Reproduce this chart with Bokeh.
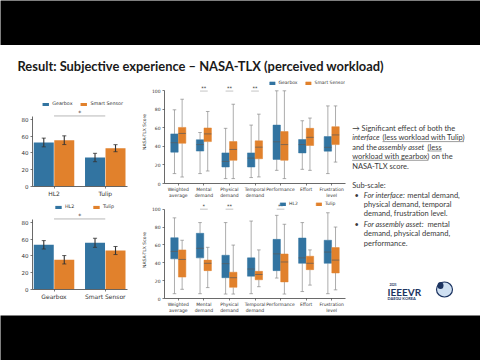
import math
from bokeh.plotting import figure
from bokeh.layouts import column, row
from bokeh.models import Range1d, FixedTicker, Label, ColumnDataSource
from bokeh.embed import file_html
from bokeh.resources import INLINE
from bokeh.core.properties import value

# ---------------- data ----------------
interfaces = ["HL2", "Tulip"]
assets = ["Gearbox", "Smart Sensor"]

# top-left bar chart: x = interface, hue = assembly asset
bar_top_gearbox = [52.4, 34.5]
bar_top_gearbox_ci = [5.2, 5.0]
bar_top_smart = [55.1, 45.6]
bar_top_smart_ci = [5.2, 4.2]

# bottom-left bar chart: x = assembly asset, hue = interface
bar_bot_hl2 = [53.2, 55.6]
bar_bot_hl2_ci = [5.0, 5.4]
bar_bot_tulip = [35.4, 46.4]
bar_bot_tulip_ci = [5.0, 4.8]

bar_ticks = [0, 20, 40, 60, 80]
box_ticks = [0, 20, 40, 60, 80, 100]

subscales = ["Weighted\naverage", "Mental\ndemand", "Physical\ndemand", "Temporal\ndemand",
             "Performance", "Effort", "Frustration\nlevel"]

# box stats (whisker low, q1, median, q3, whisker high) -- top: Gearbox vs Smart Sensor
top_gear_lo = [10.7, 10.7, 5.3, 6.4, 14.2, 15.3, 10.7]
top_gear_q1 = [33.8, 35.0, 17.8, 17.8, 26.0, 33.0, 34.9]
top_gear_med = [44.0, 42.0, 23.8, 27.4, 45.0, 42.0, 39.0]
top_gear_q3 = [53.5, 47.2, 33.0, 33.0, 63.0, 47.4, 50.6]
top_gear_hi = [79.5, 55.0, 59.5, 63.0, 100.0, 67.7, 83.7]

top_smart_lo = [7.0, 13.5, 5.3, 7.1, 5.3, 14.2, 23.1]
top_smart_q1 = [43.4, 45.2, 25.0, 26.7, 25.0, 41.0, 42.0]
top_smart_med = [54.0, 53.5, 36.7, 39.2, 42.0, 49.8, 52.4]
top_smart_q3 = [60.5, 59.9, 45.2, 46.0, 56.0, 59.5, 61.3]
top_smart_hi = [90.9, 77.7, 85.5, 74.8, 100.0, 70.6, 83.7]

# bottom: HL2 vs Tulip
bot_hl2_lo = [5.4, 5.4, 5.0, 5.4, 22.9, 7.8, 5.4]
bot_hl2_q1 = [44.4, 45.5, 23.3, 25.0, 31.2, 39.4, 39.4]
bot_hl2_med = [52.7, 56.2, 39.0, 33.0, 50.0, 45.5, 52.0]
bot_hl2_q3 = [68.0, 73.0, 48.4, 45.5, 66.2, 67.7, 65.2]
bot_hl2_hi = [90.3, 85.0, 85.0, 86.7, 93.1, 85.0, 96.0]

bot_tulip_lo = [10.3, 12.2, 5.0, 13.2, 5.0, 15.0, 9.7]
bot_tulip_q1 = [24.0, 31.2, 12.5, 21.0, 18.6, 32.3, 28.6]
bot_tulip_med = [43.7, 39.4, 23.3, 26.9, 40.9, 39.4, 43.0]
bot_tulip_q3 = [54.4, 43.0, 29.4, 30.4, 49.8, 47.3, 57.0]
bot_tulip_hi = [65.2, 57.3, 59.8, 54.4, 83.1, 54.4, 80.0]

top_sig_idx = [1, 2, 3]
top_sig_txt = ["**", "**", "**"]
bot_sig_idx = [1, 2, 4]
bot_sig_txt = ["*", "**", "**"]
bar_sig_txt = "*"

title_text = "Result: Subjective experience \u2013 NASA-TLX (perceived workload)"

# ---------------- style ----------------
BLUE = "#3274a1"
ORANGE = "#e1812c"
AX = "#444444"
CF = "DejaVu Sans"


def base_fig(w, h, xr, yr, **kw):
    p = figure(width=w, height=h, x_range=xr, y_range=yr, output_backend="svg",
               toolbar_location=None, **kw)
    p.outline_line_color = None
    p.grid.visible = False
    p.background_fill_color = "white"
    p.border_fill_color = "white"
    return p


def style_axes(p, fs):
    for ax in p.axis:
        ax.axis_line_color = AX
        ax.axis_line_width = 0.8
        ax.major_tick_line_color = AX
        ax.major_tick_line_width = 0.7
        ax.major_tick_out = 2
        ax.major_tick_in = 0
        ax.minor_tick_line_color = None
        ax.major_label_text_font = CF
        ax.major_label_text_font_size = fs
        ax.major_label_text_color = "#333333"
        ax.major_label_standoff = 2


def style_legend(p, fs, gw, gh, spacing, loc, padding):
    lg = p.legend[0]
    lg.orientation = "horizontal"
    lg.location = loc
    lg.margin = 0
    lg.padding = padding
    lg.spacing = spacing
    lg.glyph_width = gw
    lg.glyph_height = gh
    lg.label_height = gh
    lg.label_standoff = 3
    lg.label_text_font = CF
    lg.label_text_font_size = fs
    lg.label_text_color = "#333333"
    lg.background_fill_alpha = 0
    lg.border_line_color = None


BAR_PX = 0.84   # pixels per score unit in the bar charts


def bar_chart(groups, hue, m1, e1, m2, e2, height, b_top, b_bot):
    frame_h = height - b_top - b_bot
    p = base_fig(138, height, Range1d(-0.42, 1.434), Range1d(0, frame_h / BAR_PX),
                 min_border_left=32, min_border_right=11, min_border_top=b_top,
                 min_border_bottom=b_bot)
    idx = list(range(len(groups)))
    for means, errs, off, col, lab in ((m1, e1, -0.2, BLUE, hue[0]), (m2, e2, 0.2, ORANGE, hue[1])):
        xs = [i + off for i in idx]
        p.vbar(x=xs, top=means, bottom=0, width=0.39, fill_color=col, line_color=None,
               legend_label=lab)
        lo = [m - e for m, e in zip(means, errs)]
        hi = [m + e for m, e in zip(means, errs)]
        p.segment(x0=xs, y0=lo, x1=xs, y1=hi, line_color="#333333", line_width=1.1)
        p.segment(x0=[x - 0.04 for x in xs], y0=lo, x1=[x + 0.04 for x in xs], y1=lo,
                  line_color="#333333", line_width=0.8)
        p.segment(x0=[x - 0.04 for x in xs], y0=hi, x1=[x + 0.04 for x in xs], y1=hi,
                  line_color="#333333", line_width=0.8)
    # significance bracket between the two groups
    p.segment(x0=[idx[0]], y0=[84], x1=[idx[-1]], y1=[84], line_color="#888888", line_width=0.6)
    p.text(x=[(idx[0] + idx[-1]) / 2], y=[84.5], text=[bar_sig_txt], text_align="center",
           text_baseline="bottom", text_font=value(CF), text_font_size="6px", text_color="#333333")
    p.xaxis.ticker = FixedTicker(ticks=idx)
    p.xaxis.major_label_overrides = {i: g for i, g in enumerate(groups)}
    p.yaxis.ticker = FixedTicker(ticks=bar_ticks)
    p.yaxis.bounds = (0, 83)
    style_axes(p, "5.5px")
    p.xaxis.major_label_text_font_size = "6px"
    p.xaxis.major_label_standoff = 1
    p.add_layout(Label(x=-17, x_units="screen", y=41.5, y_units="data",
                       text="Mean NASA-TLX score", angle=math.pi / 2, text_align="center",
                       text_baseline="middle", text_font=CF, text_font_size="6px",
                       text_color="#333333"))
    style_legend(p, "4.8px", 8, 4, 7, "top_right", 1)
    p.legend[0].margin = 4
    return p


def box_chart(cats, s1, s2, hue, height, b_top, b_bot, px, sig_idx, sig_txt, sig_y):
    frame_h = height - b_top - b_bot
    p = base_fig(210, height, Range1d(-0.54, 6.54), Range1d(0, frame_h / px),
                 min_border_left=20, min_border_right=3, min_border_top=b_top,
                 min_border_bottom=b_bot)
    idx = list(range(len(cats)))
    for stats, off, col, lab in ((s1, -0.15, BLUE, hue[0]), (s2, 0.15, ORANGE, hue[1])):
        lo, q1, med, q3, hi = stats
        xs = [i + off for i in idx]
        p.segment(x0=xs, y0=lo, x1=xs, y1=q1, line_color="#8a8a8a", line_width=0.7)
        p.segment(x0=xs, y0=q3, x1=xs, y1=hi, line_color="#8a8a8a", line_width=0.7)
        p.segment(x0=[x - 0.07 for x in xs], y0=lo, x1=[x + 0.07 for x in xs], y1=lo,
                  line_color="#8a8a8a", line_width=0.7)
        p.segment(x0=[x - 0.07 for x in xs], y0=hi, x1=[x + 0.07 for x in xs], y1=hi,
                  line_color="#8a8a8a", line_width=0.7)
        p.vbar(x=xs, bottom=q1, top=q3, width=0.29, fill_color=col, line_color=col,
               line_width=0.5, legend_label=lab)
        p.segment(x0=[x - 0.145 for x in xs], y0=med, x1=[x + 0.145 for x in xs], y1=med,
                  line_color="#5a5a5a", line_width=0.7)
    p.segment(x0=[i - 0.15 for i in sig_idx], y0=[sig_y] * len(sig_idx),
              x1=[i + 0.15 for i in sig_idx], y1=[sig_y] * len(sig_idx),
              line_color="#888888", line_width=0.5)
    p.text(x=sig_idx, y=[sig_y + 0.4] * len(sig_idx), text=sig_txt, text_align="center",
           text_baseline="bottom", text_font=value(CF), text_font_size="5px", text_color="#333333")
    p.xaxis.ticker = FixedTicker(ticks=idx)
    p.xaxis.major_label_overrides = {i: c for i, c in enumerate(cats)}
    p.yaxis.ticker = FixedTicker(ticks=box_ticks)
    p.yaxis.bounds = (0, 100)
    style_axes(p, "4.5px")
    p.xaxis.major_label_standoff = 1
    p.yaxis.axis_label = "NASA-TLX Score"
    p.yaxis.axis_label_text_font = CF
    p.yaxis.axis_label_text_font_size = "4.5px"
    p.yaxis.axis_label_text_font_style = "normal"
    p.yaxis.axis_label_text_color = "#333333"
    p.yaxis.axis_label_standoff = 2
    style_legend(p, "4.5px", 7, 4, 6, "top_right", 1)
    return p


# ---------------- panels ----------------
W = 480

top_black = base_fig(W, 45, Range1d(0, 1), Range1d(0, 1), x_axis_location=None,
                     y_axis_location=None, min_border=0)
top_black.background_fill_color = "black"
top_black.border_fill_color = "black"

title_fig = base_fig(W, 33, Range1d(0, W), Range1d(33, 0), x_axis_location=None,
                     y_axis_location=None, min_border=0)
title_fig.text(x=[17], y=[20], text=[title_text], text_font=value("Lato"),
               text_font_style="bold", text_font_size="12.9px", text_color="#1a1a1a",
               text_baseline="middle", text_align="left")

bar_top = bar_chart(interfaces, assets, bar_top_gearbox, bar_top_gearbox_ci,
                    bar_top_smart, bar_top_smart_ci, 122, 19, 14)
bar_bot = bar_chart(assets, interfaces, bar_bot_hl2, bar_bot_hl2_ci,
                    bar_bot_tulip, bar_bot_tulip_ci, 115, 0, 26)

box_top = box_chart(subscales,
                    (top_gear_lo, top_gear_q1, top_gear_med, top_gear_q3, top_gear_hi),
                    (top_smart_lo, top_smart_q1, top_smart_med, top_smart_q3, top_smart_hi),
                    assets, 122, 2, 16, 0.936, top_sig_idx, top_sig_txt, 99.7)
box_bot = box_chart(subscales,
                    (bot_hl2_lo, bot_hl2_q1, bot_hl2_med, bot_hl2_q3, bot_hl2_hi),
                    (bot_tulip_lo, bot_tulip_q1, bot_tulip_med, bot_tulip_q3, bot_tulip_hi),
                    interfaces, 115, 1, 13, 0.93, bot_sig_idx, bot_sig_txt, 100.0)

# right-hand text panel
text_fig = base_fig(132, 237, Range1d(0, 132), Range1d(237, 0), x_axis_location=None,
                    y_axis_location=None, min_border=0)
spans_x = [3.7, 3.7, 34.0, 3.7, 29.5, 78.9, 3.7, 83.0, 3.7, 3.7, 6.0, 15.3, 58.8, 15.3, 15.3,
           6.0, 15.3, 78.9, 15.3, 15.3]
spans_y = [49.7, 59.3, 59.3, 68.7, 68.7, 68.7, 78.0, 78.0, 87.7, 107.3, 117.0, 117.0, 117.0,
           126.0, 135.3, 146.0, 146.0, 146.0, 155.3, 164.7]
spans_t = ["\u2192 Significant effect of both the", "interface", "(less workload with Tulip)",
           "and the", "assembly asset", "(less", "workload with gearbox)", "on the",
           "NASA-TLX score.", "Sub-scale:", "\u2022", "For interface:", "mental demand,",
           "physical demand, temporal", "demand, frustration level.", "\u2022",
           "For assembly asset:", "mental", "demand, physical demand,", "performance."]
spans_s = ["normal", "italic", "normal", "normal", "italic", "normal", "normal", "normal",
           "normal", "normal", "normal", "italic", "normal", "normal", "normal", "normal",
           "italic", "normal", "normal", "normal"]
src = ColumnDataSource(dict(x=spans_x, y=spans_y, t=spans_t, s=spans_s))
text_fig.text(x="x", y="y", text="t", text_font_style="s", source=src, text_font=value("Lato"),
              text_font_size="7.5px", text_color="#3a3a3a", text_baseline="middle",
              text_align="left")
text_fig.segment(x0=[34.0, 78.9, 3.7], y0=[63.1, 72.5, 81.8], x1=[115.5, 93.2, 79.9],
                 y1=[63.1, 72.5, 81.8], line_color="#3a3a3a", line_width=0.5)
# conference logo
text_fig.text(x=[39], y=[213], text=["IEEEVR"], text_font=value("Lato"), text_font_style="bold",
              text_font_size="10px", text_color="#1d3461", text_baseline="middle")
text_fig.text(x=[39], y=[219.5], text=["DAEGU KOREA"], text_font=value("Lato"),
              text_font_style="bold", text_font_size="4px", text_color="#1d3461",
              text_baseline="middle")
text_fig.text(x=[41], y=[206], text=["2025"], text_font=value("Lato"), text_font_style="bold",
              text_font_size="3px", text_color="#1d3461", text_baseline="middle")
text_fig.ellipse(x=[96], y=[211], width=[16], height=[15], fill_color="#cfe0f2",
                 line_color="#1d3461", line_width=1.2)
text_fig.ellipse(x=[92], y=[207], width=[6], height=[7], fill_color="#1d3461", line_color=None)

bottom_black = base_fig(W, 45, Range1d(0, 1), Range1d(0, 1), x_axis_location=None,
                        y_axis_location=None, min_border=0)
bottom_black.background_fill_color = "black"
bottom_black.border_fill_color = "black"

layout = column(top_black, title_fig,
                row(column(bar_top, bar_bot), column(box_top, box_bot), text_fig),
                bottom_black)

open("out.html", "w").write(file_html(layout, INLINE))
